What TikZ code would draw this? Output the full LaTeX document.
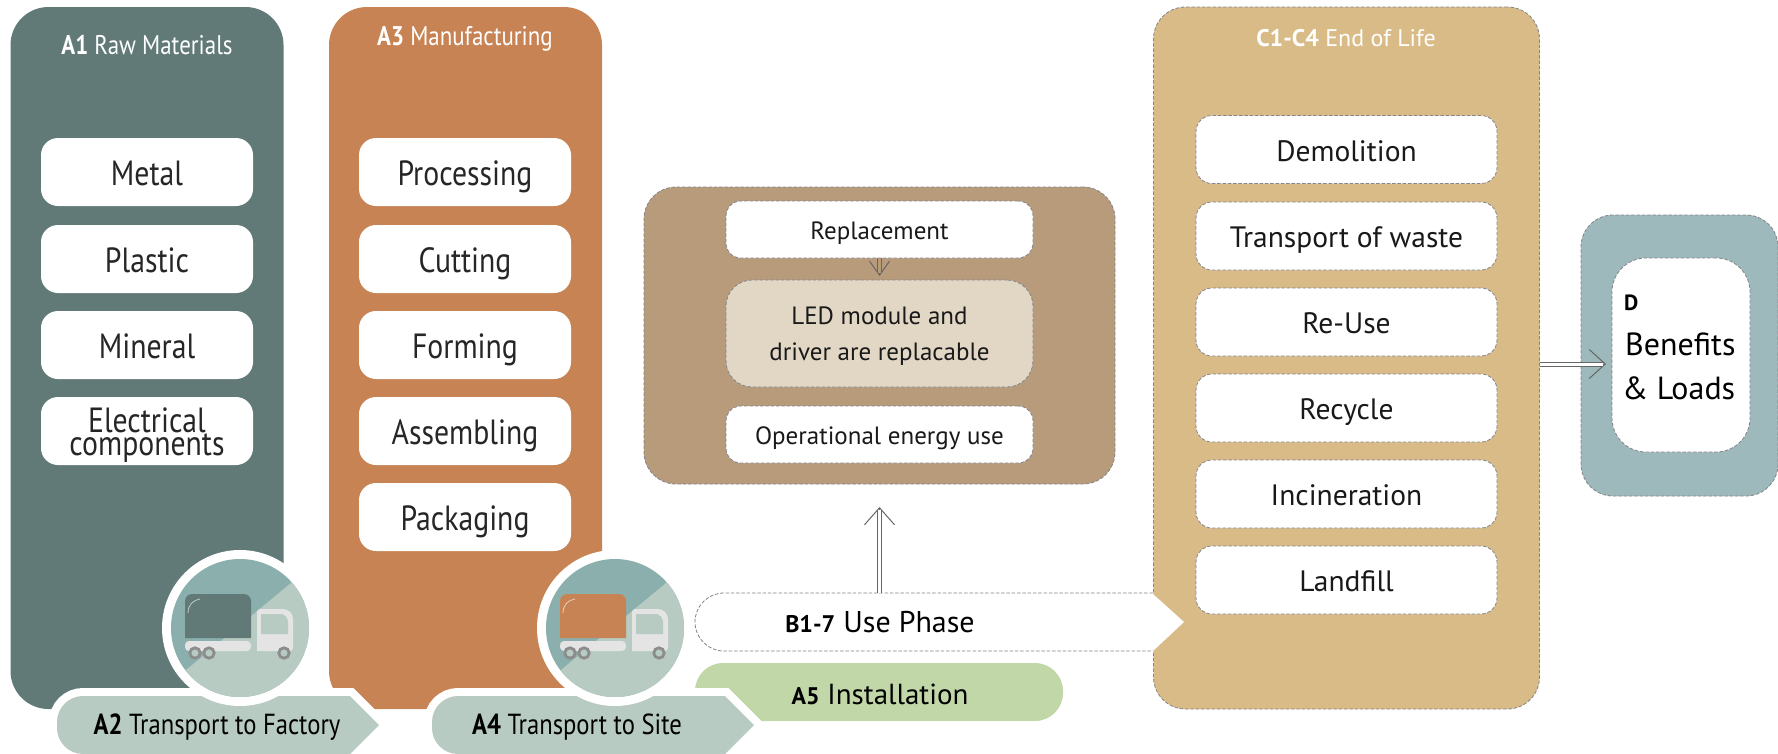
\documentclass[tikz,border=0pt]{standalone}
\usepackage{fontspec}
\setmainfont{PT Sans}
\newfontfamily\narrowfont[FakeStretch=0.85]{PT Sans}
\usepackage{xcolor}
\usetikzlibrary{arrows.meta,positioning,calc}
\definecolor{rawgreen}{HTML}{617A78}
\definecolor{mfgorange}{HTML}{C78354}
\definecolor{usebrown}{HTML}{B89B7A}
\definecolor{ledsand}{HTML}{E2D7C5}
\definecolor{eolsand}{HTML}{D9BB87}
\definecolor{dteal}{HTML}{9DB9BB}
\definecolor{instgreen}{HTML}{C1D7A7}
\definecolor{tagsage}{HTML}{B7CBC2}
\definecolor{discteal}{HTML}{8AAFAD}
\definecolor{trucklight}{HTML}{E4E4E4}
\definecolor{wheelgray}{HTML}{8C8C8C}
\definecolor{dashgray}{HTML}{84848C}
\tikzset{
    panel/.style={rectangle, inner sep=0pt, outer sep=0pt, minimum width=273pt, minimum height=702pt, rounded corners=38pt},
    dashbox/.style={rectangle, inner sep=0pt, outer sep=0pt, draw=dashgray, line width=0.8pt, dash pattern=on 3.5pt off 1.8pt},
    matbox/.style={rectangle, fill=white, text=black!85, inner sep=0pt, minimum width=212pt, minimum height=68pt, rounded corners=17pt, align=center, font=\narrowfont\fontsize{35}{23}\selectfont},
    matline/.style={matbox, text height=30pt, text depth=4pt},
    eolbox/.style={dashbox, fill=white, text=black!90, minimum width=301pt, minimum height=68pt, rounded corners=16pt, font=\fontsize{29.5}{30}\selectfont, text height=26pt, text depth=3pt},
    usebox/.style={dashbox, fill=white, text=black!90, minimum width=307pt, rounded corners=15pt, font=\fontsize{25}{36}\selectfont},
    useline/.style={usebox, text height=24pt, text depth=4pt},
    paneltitle/.style={text=white, font=\fontsize{24}{24}\selectfont},
    tagtitle/.style={text=white, font=\narrowfont\fontsize{27}{27}\selectfont},
    taglabel/.style={font=\narrowfont\fontsize{29}{29}\selectfont},
    dbltip/.style={draw=black!60, line width=1pt},
    dblshaft/.style={draw=black!60, line width=1pt, double distance=3pt}
}
\begin{document}
\begin{tikzpicture}[x=1pt, y=-1pt]
    \useasboundingbox (0,0) rectangle (1778,753);

    % raw materials and manufacturing
    \node[panel, fill=rawgreen] (rawpanel) at (147,358) {};
    \node[panel, fill=mfgorange] (mfgpanel) at (465.5,358) {};
    \node[tagtitle] (rawtitle) at (147,45) {\textbf{A1} Raw Materials};
    \node[tagtitle] (mfgtitle) at (465,39) {\textbf{A3} Manufacturing};

    \foreach \name/\txt/\y in {metal/Metal/172, plastic/Plastic/259, mineral/Mineral/345} {
        \node[matline] (\name) at (147,\y) {\txt};
    }
    \node[matbox] (elec) at (147,431) {\rule{0pt}{33pt}Electrical\\components};
    \foreach \name/\txt/\y in {proc/Processing/172, cut/Cutting/259, form/Forming/345, assem/Assembling/431, pack/Packaging/517} {
        \node[matline] (\name) at (465,\y) {\txt};
    }

    % installation, sits under the transport tag
    \fill[instgreen, rounded corners=28pt] (695,721) -- (695,663) -- (1063,663) -- (1063,721) -- cycle;
    \node (inst) at (880,694) {\fontsize{29}{30}\selectfont\textbf{\fontsize{24}{30}\selectfont A5} Installation};

    % transport tags and truck discs
    \foreach \cx/\tx/\col/\tagname/\disc/\txt in {0/217/rawgreen/tagfactory/discfactory/{\textbf{A2} Transport to Factory}, 375/202/mfgorange/tagsite/discsite/{\textbf{A4} Transport to Site}} {
        \begin{scope}[shift={(\cx,0)}]
            \path[draw=white, line width=16pt, line join=miter]
                (350,696) -- (379,725) -- (350,754) [rounded corners=26pt] -- (57,754) -- (57,696) [sharp corners] -- cycle;
            \fill[tagsage] (350,696) -- (379,725) -- (350,754) [rounded corners=26pt] -- (57,754) -- (57,696) [sharp corners] -- cycle;
            \node[taglabel] (\tagname) at (\tx,727) {\txt};
        \end{scope}
        \begin{scope}[shift={(\cx+240,628)}]
            \fill[white] (0,0) circle[radius=78];
            \begin{scope}
                \clip (0,0) circle[radius=69];
                \fill[discteal] (-80,-80) rectangle (80,80);
                \fill[tagsage] (51,-45) -- (-54,42) -- (-80,80) -- (80,80) -- (80,-80) -- cycle;
            \end{scope}
            \coordinate (\disc) at (0,0);
            \fill[\col] (-55,10) [rounded corners=7pt] -- (-55,-34) -- (11,-34) [sharp corners] -- (11,10) -- cycle;
            \draw[white!60!\col, line width=0.8pt] (-52,-15) .. controls (-52,-23) and (-47,-28) .. (-40,-29);
            \fill[trucklight, rounded corners=4pt] (-55,13) rectangle (11,23);
            \fill[trucklight] (17,23) [rounded corners=3pt] -- (17,-19) -- (38,-19) [rounded corners=10pt] -- (53,-19) [rounded corners=3pt] -- (53,23) [sharp corners] -- cycle;
            \fill[tagsage] (21,6) -- (21,-14) [rounded corners=8pt] -- (36,-14) -- (48,-14) [sharp corners] -- (48,6) -- cycle;
            \foreach \wx in {-45,-31,44} {
                \draw[wheelgray, line width=2.8pt, fill=tagsage] (\wx,25) circle[radius=5.2];
            }
        \end{scope}
    }

    % use phase
    \node[dashbox, fill=usebrown, minimum width=471pt, minimum height=297pt, rounded corners=32pt] (usepanel) at (879.5,335.5) {};
    \node[useline, minimum height=57pt] (repl) at (879.5,229.5) {Replacement};
    \node[usebox, fill=ledsand, minimum height=107pt, rounded corners=26pt, align=center] (led) at (879.5,333.5) {\rule{0pt}{23pt}LED module and\\driver are replacable};
    \node[useline, text height=23pt, minimum height=57pt] (opuse) at (879.5,434.5) {Operational energy use};

    % end of life
    \node[dashbox, fill=eolsand, minimum width=386pt, minimum height=702pt, rounded corners=32pt] (eolpanel) at (1346.5,358) {};
    \node[paneltitle] (eoltitle) at (1346,38) {\textbf{C1-C4} End of Life};
    \foreach \name/\txt/\y in {demo/Demolition/149.5, waste/Transport of waste/236, reuse/Re-Use/322, recycle/Recycle/408, incin/Incineration/494, landfill/Landfill/580} {
        \node[eolbox] (\name) at (1346.5,\y) {\txt};
    }

    % the white bar of the use phase runs into the end of life panel
    \fill[white] (1153,594) -- (1184,622) -- (1153,651) -- cycle;
    \fill[white, rounded corners=29pt] (1154,593) -- (695,593) -- (695,651) -- (1154,651) -- cycle;
    \draw[dashgray, line width=0.8pt, dash pattern=on 3.5pt off 1.8pt, rounded corners=29pt] (1153,593) -- (695,593) -- (695,651) -- (1153,651);
    \node (usephase) at (880,622) {\fontsize{30}{30}\selectfont\textbf{\fontsize{24}{30}\selectfont B1-7} Use Phase};
    \coordinate (usetop) at (879.5,593);

    % benefits
    \node[dashbox, fill=dteal, minimum width=197pt, minimum height=281pt, rounded corners=32pt] (dpanel) at (1679.5,355.5) {};
    \node[dashbox, fill=white, minimum width=138pt, minimum height=194pt, rounded corners=34pt] (dbox) at (1681,355) {};
    \node[anchor=west, inner sep=0pt, font=\bfseries\fontsize{22}{24}\selectfont] (dletter) at (1624,303) {D};
    \node[anchor=west, inner sep=0pt, font=\fontsize{32}{32}\selectfont] (dben) at (1625,344) {Benefits};
    \node[anchor=west, inner sep=0pt, font=\fontsize{32}{32}\selectfont] (dload) at (1622,388) {\& Loads};

    \coordinate (eolout) at (1540,364);
    \coordinate (dinto) at (1606,364);

    % double arrows, tip first and then the shaft over it
    \foreach \from/\to/\short/\len/\wid/\core in {repl.south/led.north/4/14/20/usebrown, usetop/usepanel.south/23/17/30/white, eolout/dinto/0/16/29/white} {
        \draw[dbltip, shorten >=\short pt, -{Straight Barb[length=\len pt, width=\wid pt]}] (\from) -- (\to);
        \draw[dblshaft, double=\core, shorten >=\short pt + 3pt] (\from) -- (\to);
    }
\end{tikzpicture}
\end{document}
